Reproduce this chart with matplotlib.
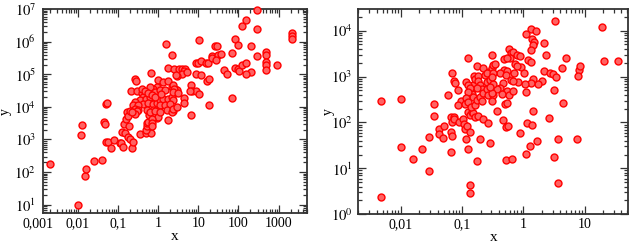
import matplotlib
matplotlib.use("Agg")
import matplotlib.pyplot as plt
import numpy as np
from matplotlib.ticker import FixedLocator, LogLocator, FuncFormatter, NullFormatter

plt.rcParams['font.family'] = ['Liberation Serif', 'DejaVu Serif']
plt.rcParams['mathtext.fontset'] = 'stix'

# ---------------- left panel data ----------------
left_x = [0.0021, 0.01, 0.012, 0.013, 0.015, 0.016, 0.025, 0.04, 0.046, 0.047,
          0.05, 0.055, 0.051, 0.057, 0.066, 0.08, 0.11, 0.117, 0.125, 0.137,
          0.15, 0.143, 0.16, 0.166, 0.176, 0.182, 0.2, 0.193, 0.213, 0.23,
          0.243, 0.25, 0.267, 0.283, 0.295, 0.356, 0.66,
          0.392, 0.431, 0.356, 0.503, 0.632, 0.431, 0.574, 0.267, 0.243, 0.324,
          0.765, 0.927, 1.12, 1.36, 1.81, 2.19, 2.41, 1.12, 1.49, 1.99,
          0.267, 0.324, 0.522, 0.765, 0.927, 1.64, 2.41, 0.201,
          1.02, 1.36, 1.81, 0.927, 0.765, 0.632, 0.842, 1.12, 1.49, 2.19, 2.65, 2.92,
          0.503, 0.67, 0.503, 0.522, 0.522, 0.574, 0.608, 0.632, 0.842, 0.927,
          1.02, 1.12, 1.74, 2.24, 0.294, 0.267, 0.221, 0.695, 0.695, 0.695,
          0.4, 0.47, 0.57, 0.7, 0.84, 1.2,
          2.19, 1.58, 1.74, 2.5, 3.33, 3.88, 4.7, 4.53, 4.03, 5.17, 2.92, 2.75,
          8.67, 11.5, 16.9, 18.6, 6.5, 7.16, 8.67, 10.5, 6.26,
          2.32, 2.5, 2.32, 3.09, 4.44, 4.53, 18.6, 68.2, 6.5, 2.32, 2.92,
          8.67, 10.1, 11.8, 15.4, 17.2, 10.5, 21.7, 22.5, 31.8, 36.3, 26.2, 28.8, 28.0,
          44.8, 51.2, 68.2, 82.6, 100, 82.6, 100, 104, 121, 155, 207, 155,
          121, 155, 207, 297, 297, 297, 479, 479, 479, 479, 479, 900,
          2210, 2210, 2210]
left_y = [180, 10, 1400, 2800, 75, 120, 220, 240, 3500, 2900,
          12000, 13000, 850, 810, 550, 970, 790, 760, 1750, 590,
          1600, 3100, 4200, 7000, 5200, 1200, 1070, 2600, 30000, 530,
          810, 7900, 70000, 63000, 32000, 1450, 110000,
          26000, 20000, 16000, 17000, 20000, 12600, 13600, 14000, 11200, 11200,
          12600, 13600, 16000, 18000, 18000, 20000, 16000, 11200, 11200, 12600,
          8900, 7900, 7900, 7900, 7400, 7900, 7400, 7400,
          66000, 59000, 62000, 41000, 36500, 41000, 29000, 32500, 32500, 41000, 36500, 32500,
          1600, 1600, 2000, 2600, 3200, 3500, 5550, 7000, 7500, 4700,
          4900, 7000, 3900, 7000, 7500, 6200, 7000, 4200, 3300, 2600,
          36000, 32000, 26000, 23000, 20000, 25000,
          385000, 870000, 158000, 150000, 150000, 143000, 150000, 127000, 105000, 118000, 87000, 93000,
          105000, 93000, 62000, 74000, 46000, 30000, 30000, 24500, 30000,
          46000, 36500, 29000, 26000, 19000, 13300, 11800, 19000, 5800, 8900, 10000,
          230000, 230000, 260000, 224000, 224000, 1160000, 370000, 320000, 400000, 410000, 740000, 740000, 280000,
          140000, 105000, 450000, 1260000, 810000, 158000, 150000, 124000, 190000, 230000, 118000, 100000,
          3060000, 4800000, 720000, 9200000, 2500000, 370000, 490000, 400000, 240000, 200000, 140000, 190000,
          1860000, 1550000, 1260000]

# ---------------- right panel data ----------------
right_x = [0.0047, 0.0047, 0.01, 0.01, 0.0154, 0.0217, 0.0286, 0.0286, 0.0349, 0.0349,
           0.0422, 0.0422, 0.0503, 0.0491, 0.0578, 0.0671, 0.0655, 0.0671, 0.0655, 0.0671,
           0.0655, 0.0743, 0.0762, 0.0743, 0.0743, 0.0842, 0.0885, 0.0955, 0.0842, 0.104,
           0.107, 0.111, 0.118, 0.114, 0.126, 0.134, 0.134, 0.134, 0.115, 0.126,
           0.126, 0.134, 0.143, 0.152, 0.162, 0.184, 0.221, 0.267, 0.195, 0.285,
           0.172, 0.366, 0.471, 0.52, 0.568, 0.514, 0.644, 0.882, 1.13, 1.37,
           1.46, 2.66, 1.11, 1.29, 1.65, 3.18, 3.65, 7.65, 3.65,
           0.152, 0.158, 0.162, 0.179, 0.184, 0.195, 0.208, 0.172, 0.143, 0.152,
           0.126, 0.134, 0.123, 0.114, 0.111, 0.126, 0.14, 0.162, 0.172, 0.195,
           0.221, 0.208, 0.236, 0.251, 0.251, 0.267, 0.285, 0.303, 0.267, 0.303,
           0.323, 0.172, 0.221, 0.251,
           1.32, 1.61, 1.11, 1.40, 1.5, 1.46, 1.32, 2.21, 2.32, 0.582,
           0.621, 0.686, 0.778, 0.882, 0.605, 0.483, 0.547, 0.731, 0.9, 0.778,
           1.21, 1.32, 0.35, 0.483, 0.534, 0.415, 0.315, 0.52, 0.703, 1.03,
           4.35, 4.9, 8.15, 8.4, 7.94, 2.21, 2.73, 3.02, 3.43, 2.05,
           1.72, 1.46, 1.32, 1.06, 0.828, 0.621, 0.67, 0.471, 0.415, 0.366,
           0.315, 0.534, 0.442, 0.59, 0.669, 0.323, 0.303, 0.501, 0.547, 1.11,
           3.18, 4.4, 0.303, 19.1, 21.2, 35, 3.3, 0.303, 0.285]
right_y = [294, 2.4, 325, 29, 15.8, 26, 8.9, 49, 249, 139,
           71, 56, 84, 45, 397, 1220, 130, 104, 63, 52,
           23, 801, 713, 130, 117, 510, 104, 299, 240, 117,
           93, 72, 84, 43, 27, 63, 4.35, 2.96, 749, 2580,
           172, 146, 172, 158, 134, 139, 117, 96, 43, 35,
           14.7, 181, 113, 79, 84, 15.2, 16, 58, 96, 88,
           181, 127, 21, 30, 40, 17.4, 43, 43, 4.9,
           670, 1040, 885, 1040, 801, 656, 535, 575, 410, 365,
           656, 555, 454, 336, 249, 275, 221, 240, 309, 365,
           432, 294, 1080, 749, 540, 1280, 842, 1510, 397, 2950,
           1790, 1700, 1510, 1220,
           10900, 9800, 8450, 6470, 5570, 4870, 3730, 5300, 2950, 3920,
           3210, 3490, 2950, 2850, 2500, 2420, 2580, 1850, 1580, 1730,
           2300, 2040, 1850, 1390, 1350, 1220, 1180, 1080, 1180, 1180,
           1560, 2500, 1370, 1730, 1010, 1320, 1220, 1140, 963, 801,
           689, 885, 737, 689, 775, 842, 820, 737, 575, 527,
           689, 485, 410, 397, 485, 397, 294, 249, 270, 454,
           510, 270, 432, 12200, 2220, 2220, 16300, 995, 600]

left_xticks = [0.001, 0.01, 0.1, 1, 10, 100, 1000]
left_yticks = [1e1, 1e2, 1e3, 1e4, 1e5, 1e6, 1e7]
right_xticks = [0.01, 0.1, 1, 10]
right_yticks = [1e0, 1e1, 1e2, 1e3, 1e4]

W, H = 630, 245
fig = plt.figure(figsize=(W / 100, H / 100), dpi=100)

ax1 = fig.add_axes([43 / W, (H - 213.3) / H, 264 / W, 204 / H])
ax2 = fig.add_axes([358.3 / W, (H - 214.3) / H, 270 / W, 205.3 / H])

face = '#ff6262'
edge = '#ff0000'


def comma_fmt(v, pos=None):
    s = ('%.10f' % v).rstrip('0').rstrip('.')
    return s.replace('.', ',')


def pow_fmt(v, pos=None):
    return r'$10^{%d}$' % int(round(np.log10(v)))


def style(ax, xticks, yticks, xlim, ylim, ypad, ylab_x):
    ax.set_xscale('log')
    ax.set_yscale('log')
    ax.set_xlim(*xlim)
    ax.set_ylim(*ylim)
    ax.xaxis.set_major_locator(FixedLocator(xticks))
    ax.yaxis.set_major_locator(FixedLocator(yticks))
    ax.xaxis.set_minor_locator(LogLocator(base=10, subs=np.arange(2, 10), numticks=20))
    ax.yaxis.set_minor_locator(LogLocator(base=10, subs=np.arange(2, 10), numticks=20))
    ax.xaxis.set_major_formatter(FuncFormatter(comma_fmt))
    ax.yaxis.set_major_formatter(FuncFormatter(pow_fmt))
    ax.xaxis.set_minor_formatter(NullFormatter())
    ax.yaxis.set_minor_formatter(NullFormatter())
    ax.tick_params(which='both', direction='in', top=True, right=True,
                   colors='#333333', labelcolor='black', width=0.9)
    ax.tick_params(which='major', length=6, labelsize=10)
    ax.tick_params(which='minor', length=3)
    ax.tick_params(axis='x', which='major', pad=3)
    ax.tick_params(axis='y', which='major', pad=ypad, labelsize=10.5)
    for sp in ax.spines.values():
        sp.set_color('#333333')
        sp.set_linewidth(1.3)
    ax.set_xlabel('x', fontsize=11, labelpad=0)
    ax.set_ylabel('y', fontsize=10)
    ax.yaxis.set_label_coords(ylab_x, 0.5)


ax1.plot(left_x, left_y, linestyle='none', marker='o', markersize=5.0,
         markerfacecolor=face, markeredgecolor=edge, markeredgewidth=1.0,
         clip_on=False, zorder=3)
ax2.plot(right_x, right_y, linestyle='none', marker='o', markersize=5.0,
         markerfacecolor=face, markeredgecolor=edge, markeredgewidth=1.0,
         clip_on=False, zorder=3)

style(ax1, left_xticks, left_yticks, (0.00137, 5100), (5.4, 1e7), 5, -0.117)
style(ax2, right_xticks, right_yticks, (0.002, 52), (1, 2.96e4), 4, -0.086)

# the 0,001 label sits just outside the left frame edge
ax1.annotate(comma_fmt(left_xticks[0]), xy=(left_xticks[0], 0),
             xycoords=('data', 'axes fraction'), xytext=(0, -3),
             textcoords='offset points', ha='center', va='top', fontsize=10,
             annotation_clip=False)

fig.savefig('out.png', dpi=100)
